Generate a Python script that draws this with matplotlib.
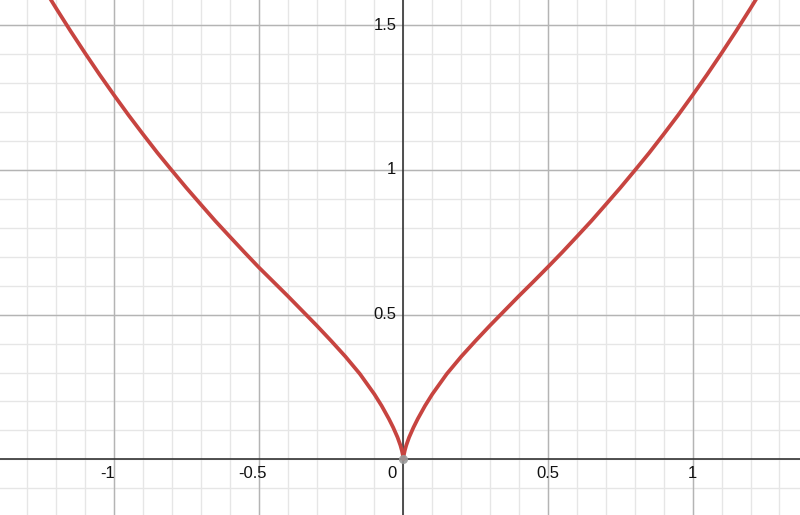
import matplotlib
matplotlib.use("Agg")
import matplotlib.pyplot as plt
import numpy as np

# Curve readings (right branch, then left branch)
right_x = [0.0, 0.002, 0.005, 0.01, 0.02, 0.035, 0.05, 0.075, 0.1, 0.15, 0.2, 0.25,
           0.3, 0.35, 0.4, 0.45, 0.5, 0.55, 0.6, 0.65, 0.7, 0.75, 0.8, 0.85, 0.9,
           0.95, 1.0, 1.05, 1.1, 1.15, 1.2, 1.25]
right_y = [0.0, 0.016, 0.03, 0.048, 0.076, 0.11, 0.14, 0.185, 0.225, 0.295, 0.355, 0.41,
           0.463, 0.514, 0.565, 0.6145, 0.665, 0.7165, 0.770, 0.824, 0.881, 0.9385,
           0.9985, 1.0595, 1.124, 1.190, 1.259, 1.330, 1.404, 1.480, 1.559, 1.640]
left_x = [-0.0, -0.002, -0.005, -0.01, -0.02, -0.035, -0.05, -0.075, -0.1, -0.15, -0.2,
          -0.25, -0.3, -0.35, -0.4, -0.45, -0.5, -0.55, -0.6, -0.65, -0.7, -0.75, -0.8,
          -0.85, -0.9, -0.95, -1.0, -1.05, -1.1, -1.15, -1.2, -1.25]
left_y = [0.0, 0.016, 0.03, 0.048, 0.076, 0.11, 0.14, 0.185, 0.225, 0.295, 0.355,
          0.41, 0.463, 0.514, 0.565, 0.6145, 0.664, 0.7165, 0.770, 0.824, 0.881, 0.9385,
          0.9985, 1.0595, 1.124, 1.190, 1.259, 1.330, 1.404, 1.480, 1.559, 1.640]

x_tick_values = [-1, -0.5, 0.5, 1]
x_tick_labels = ["-1", "-0.5", "0.5", "1"]
y_tick_values = [0.5, 1, 1.5]
y_tick_labels = ["0.5", "1", "1.5"]

fig = plt.figure(figsize=(8.0, 5.15), dpi=100)
ax = fig.add_axes([0, 0, 1, 1])
xmin, xmax = -1.394, 1.371
ymin, ymax = -0.1925, 1.5876
ax.set_xlim(xmin, xmax)
ax.set_ylim(ymin, ymax)
for s in ax.spines.values():
    s.set_visible(False)
ax.set_xticks([])
ax.set_yticks([])

# grid
minor_x = np.arange(-1.3, 1.4, 0.1)
minor_y = np.arange(-0.1, 1.6, 0.1)
for v in minor_x:
    ax.axvline(v, color="#e6e6e6", lw=1.0, zorder=0)
for v in minor_y:
    ax.axhline(v, color="#e6e6e6", lw=1.0, zorder=0)
for v in [-1.0, -0.5, 0.5, 1.0]:
    ax.axvline(v, color="#b4b4b4", lw=1.0, zorder=1)
for v in [0.5, 1.0, 1.5]:
    ax.axhline(v, color="#b4b4b4", lw=1.0, zorder=1)
ax.axvline(0, color="#333333", lw=1.2, zorder=2)
ax.axhline(0, color="#333333", lw=1.2, zorder=2)

# curve
red = "#c74440"
ax.plot(right_x, right_y, color=red, lw=2.7, solid_capstyle="round",
        solid_joinstyle="round", zorder=5)
ax.plot(left_x, left_y, color=red, lw=2.7, solid_capstyle="round",
        solid_joinstyle="round", zorder=5)
ax.plot([0], [0], "o", ms=6.5, color="#9a9a9a", alpha=0.9, mec="none", zorder=6)

font = dict(family=["Liberation Sans", "DejaVu Sans"], size=12, color="#111111")
for v, lab in zip(x_tick_values, x_tick_labels):
    dx = -6 if v < 0 else 0
    ax.annotate(lab, (v, 0), xytext=(dx, -14), textcoords="offset pixels",
                ha="center", va="center", **font)
for v, lab in zip(y_tick_values, y_tick_labels):
    ax.annotate(lab, (0, v), xytext=(-7, 0), textcoords="offset pixels",
                ha="right", va="center", **font)
ax.annotate("0", (0, 0), xytext=(-7, -14), textcoords="offset pixels",
            ha="right", va="center", **font)

fig.savefig("out.png", dpi=100)
